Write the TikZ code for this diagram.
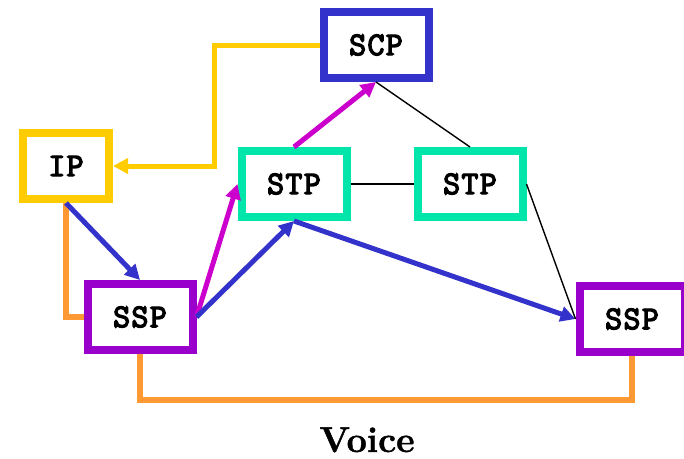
\documentclass[tikz,border=0pt]{standalone}
\usepackage{fontspec}
\newfontfamily\elementfont[FakeBold=4,LetterSpace=4]{Latin Modern Mono}
\newfontfamily\voicefont[BoldFeatures={FakeBold=1.2}]{Latin Modern Roman}
\usetikzlibrary{arrows.meta}
\definecolor{scpblue}{HTML}{3333CC}
\definecolor{ipyellow}{HTML}{FFCC00}
\definecolor{stpgreen}{HTML}{00E6AA}
\definecolor{ssppurple}{HTML}{9900CC}
\definecolor{voiceorange}{HTML}{FF9933}
\definecolor{sigmagenta}{HTML}{CC00CC}
\tikzset{
    every node/.style = {
        inner sep = 0pt
    },
    element/.style = {
        draw,
        fill = white,
        line width = 8pt,
        outer sep = 4pt,
        minimum width = 105pt,
        minimum height = 66pt,
        font = \fontsize{33}{33}\selectfont\elementfont
    },
    signal/.style = {
        ->,
        > = {Triangle[length=15pt,width=15pt]},
        line width = 5pt
    },
    trunk/.style = {
        voiceorange,
        line width = 6pt
    },
    link/.style = {
        line width = 1.4pt
    }
}
\begin{document}
\begin{tikzpicture}[x=1pt,y=-1pt]
    \useasboundingbox (0,0) rectangle (684,458);
    \node (scp)  at (376,45)  [element, draw=scpblue]   {SCP};
    \node (ip)   at (66,166)  [element, draw=ipyellow, minimum width=86pt] {IP};
    \node (stpl) at (294,184) [element, draw=stpgreen]  {STP};
    \node (stpr) at (470,184) [element, draw=stpgreen]  {STP};
    \node (sspl) at (140,317) [element, draw=ssppurple] {SSP};
    \node (sspr) at (632,319) [element, draw=ssppurple] {SSP};
    \node (voice) at (367,452) [anchor=base, font=\fontsize{36}{36}\selectfont\voicefont\bfseries] {Voice};
    % trunks
    \draw[trunk] (ip.south) |- (sspl.west);
    \draw[trunk] (sspl.south) -- ++(0,46) -| (sspr.south);
    \draw[signal, ipyellow] (scp.west) -- ++(-105,0) |- (ip.east);
    % signalling
    \draw[signal, scpblue] (ip.south) -- (sspl.north);
    \draw[signal, sigmagenta] (sspl.east) -- (stpl.west);
    \draw[signal, scpblue] (sspl.east) -- (stpl.south);
    \draw[signal, scpblue] (stpl.south) -- (sspr.west);
    \draw[signal, sigmagenta] (stpl.north) -- (scp.south);
    % links
    \draw[link] (scp.south) -- (stpr.north);
    \draw[link] (stpl.east) -- (stpr.west);
    \draw[link] (stpr.east) -- (sspr.west);
\end{tikzpicture}
\end{document}
